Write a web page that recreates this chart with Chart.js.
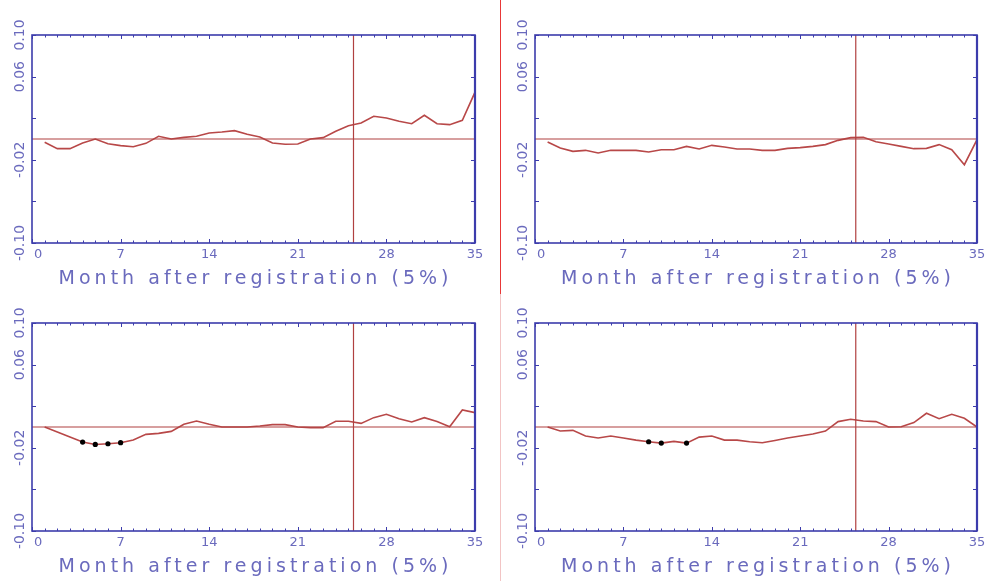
<!DOCTYPE html>
<html>
<head>
<meta charset="utf-8">
<script src="https://cdn.jsdelivr.net/npm/chart.js@4.4.1/dist/chart.umd.min.js"></script>
<style>
    body { margin: 0; background: #fff; width: 998px; height: 581px; position: relative; overflow: hidden; }
    .panel { position: absolute; }
    #sep_top { position: absolute; left: 500px; top: 0; width: 1px; height: 294px; background: #e83838; }
    #sep_bottom { position: absolute; left: 500px; top: 294px; width: 1px; height: 287px; background: #f2c4c4; }
</style>
</head>
<body>
<div class="panel" style="left:0;top:0"><canvas id="chart_tl" width="499" height="290"></canvas></div>
<div class="panel" style="left:500px;top:0"><canvas id="chart_tr" width="498" height="290"></canvas></div>
<div class="panel" style="left:0;top:290px"><canvas id="chart_bl" width="499" height="291"></canvas></div>
<div class="panel" style="left:500px;top:290px"><canvas id="chart_br" width="498" height="291"></canvas></div>
<div id="sep_top"></div>
<div id="sep_bottom"></div>
<script>
// months after registration
const months = [1, 2, 3, 4, 5, 6, 7, 8, 9, 10, 11, 12, 13, 14, 15, 16, 17, 18,
    19, 20, 21, 22, 23, 24, 25, 26, 27, 28, 29, 30, 31, 32, 33, 34, 35];

// values (top-left, top-right, bottom-left, bottom-right)
const tl_values = [-0.0032, -0.0093, -0.0093, -0.0038, 0.0, -0.0045, -0.0064, -0.0074, -0.0042, 0.0026,
    0.0, 0.0016, 0.0026, 0.0058, 0.0067, 0.0080, 0.0045, 0.0019, -0.0038, -0.0051,
    -0.0048, 0.0, 0.0013, 0.0074, 0.0128, 0.0154, 0.0218, 0.0202, 0.0170, 0.0147,
    0.0228, 0.0147, 0.0138, 0.0180, 0.0450];
const tr_values = [-0.0029, -0.0087, -0.0119, -0.0109, -0.0135, -0.0109, -0.0109, -0.0109, -0.0125, -0.0103,
    -0.0103, -0.0071, -0.0096, -0.0061, -0.0077, -0.0096, -0.0096, -0.0109, -0.0109, -0.0090,
    -0.0083, -0.0071, -0.0054, -0.0013, 0.0013, 0.0016, -0.0026, -0.0048, -0.0071, -0.0093,
    -0.0090, -0.0054, -0.0103, -0.0247, -0.0006];
const bl_values = [0.0, -0.0048, -0.0097, -0.0145, -0.0168, -0.0161, -0.0151, -0.0126, -0.0071, -0.0061,
    -0.0042, 0.0026, 0.0058, 0.0026, 0.0, 0.0, 0.0, 0.0010, 0.0023, 0.0023,
    0.0, -0.0006, -0.0006, 0.0055, 0.0055, 0.0035, 0.0090, 0.0122, 0.0080, 0.0048,
    0.0090, 0.0052, 0.0003, 0.0164, 0.0138];
const br_values = [0.0, -0.0039, -0.0032, -0.0087, -0.0106, -0.0087, -0.0106, -0.0126, -0.0142, -0.0155,
    -0.0138, -0.0155, -0.0097, -0.0087, -0.0126, -0.0126, -0.0142, -0.0151, -0.0129, -0.0106,
    -0.0087, -0.0068, -0.0039, 0.0052, 0.0074, 0.0058, 0.0052, 0.0, 0.0003, 0.0042,
    0.0132, 0.0080, 0.0122, 0.0084, 0.0];

// months marked with a black dot
const bl_marked = [4, 5, 6, 7];
const br_marked = [9, 10, 12];

// reference lines
const cutoff_month = 25.4;
const zero_level = 0;

// axes
const x_tick_labels = [0, 7, 14, 21, 28, 35];
const y_tick_values = [-0.10, -0.06, -0.02, 0.02, 0.06, 0.10];
const y_tick_labels = ["0.10", "0.06", "-0.02", "-0.10"];
const axis_title = "Month after registration (5%)";

const AXIS_COLOR = '#3c3cac';
const TEXT_COLOR = '#6a6abd';
const LINE_COLOR = '#b84848';
const REF_COLOR = '#b04040';

// inward ticks, frame, labels and title drawn on the library's scales
const frame_plugin = {
    id: 'frame',
    afterDatasetsDraw(chart) {
        const ctx = chart.ctx;
        const a = chart.chartArea;
        const x = chart.scales.x, y = chart.scales.y;
        ctx.save();
        ctx.strokeStyle = AXIS_COLOR;
        ctx.lineWidth = 1;
        ctx.beginPath();
        for (let m = 0; m <= 35; m++) {
            const px = Math.round(x.getPixelForValue(m)) + 0.5;
            const len = m % 7 === 0 ? 4 : 2.5;
            ctx.moveTo(px, a.bottom); ctx.lineTo(px, a.bottom - len);
            ctx.moveTo(px, a.top); ctx.lineTo(px, a.top + len);
        }
        y_tick_values.forEach(v => {
            const py = Math.round(y.getPixelForValue(v)) + 0.5;
            ctx.moveTo(a.left, py); ctx.lineTo(a.left + 4, py);
            ctx.moveTo(a.right, py); ctx.lineTo(a.right - 4, py);
        });
        ctx.stroke();

        ctx.lineWidth = 1.6;
        ctx.strokeRect(a.left, a.top, a.right - a.left, a.bottom - a.top);
        ctx.lineWidth = 2.2;
        ctx.beginPath();
        ctx.moveTo(a.right, a.top); ctx.lineTo(a.right, a.bottom);
        ctx.stroke();

        ctx.fillStyle = TEXT_COLOR;
        ctx.font = '13px "DejaVu Sans"';
        ctx.textBaseline = 'middle';
        x_tick_labels.forEach((v, i) => {
            ctx.textAlign = i === 0 ? 'left' : 'center';
            const px = x.getPixelForValue(v) + (i === 0 ? 2 : 0);
            ctx.fillText(String(v), px, a.bottom + 12);
        });
        ctx.textAlign = 'center';
        ctx.font = '14px "DejaVu Sans"';
        y_tick_labels.forEach(lbl => {
            ctx.save();
            ctx.translate(a.left - 12, y.getPixelForValue(parseFloat(lbl)));
            ctx.rotate(-Math.PI / 2);
            ctx.fillText(lbl, 0, 0);
            ctx.restore();
        });

        ctx.font = '19px "DejaVu Sans"';
        ctx.letterSpacing = '0px';
        const w = ctx.measureText(axis_title).width;
        const spacing = Math.max(0, (390 - w) / (axis_title.length - 1));
        ctx.letterSpacing = spacing.toFixed(2) + 'px';
        ctx.fillText(axis_title, (a.left + a.right) / 2 + spacing / 2, a.bottom + 36);
        ctx.restore();
    }
};

function make_panel(canvas_id, values, marked, pad) {
    const series = months.map((m, i) => ({ x: m, y: values[i] }));
    const config = {
        type: 'line',
        data: {
            datasets: [
                {
                    data: [{ x: 0, y: zero_level }, { x: 35, y: zero_level }],
                    borderColor: REF_COLOR, borderWidth: 1.2, pointRadius: 0
                },
                {
                    data: [{ x: cutoff_month, y: -0.1 }, { x: cutoff_month, y: 0.1 }],
                    borderColor: REF_COLOR, borderWidth: 1.2, pointRadius: 0
                },
                {
                    data: series,
                    borderColor: LINE_COLOR,
                    borderWidth: 1.6,
                    tension: 0,
                    pointRadius: ctx => marked.includes(ctx.raw.x) ? 2.6 : 0,
                    pointBackgroundColor: '#000',
                    pointBorderColor: '#000',
                    pointBorderWidth: 0
                }
            ]
        },
        options: {
            responsive: false,
            animation: false,
            events: [],
            layout: { padding: pad },
            plugins: { legend: { display: false }, tooltip: { enabled: false } },
            scales: {
                x: { type: 'linear', min: 0, max: 35, display: false },
                y: { type: 'linear', min: -0.1, max: 0.1, display: false }
            }
        },
        plugins: [frame_plugin]
    };
    return new Chart(document.getElementById(canvas_id).getContext('2d'), config);
}

make_panel('chart_tl', tl_values, [], { left: 32, right: 24, top: 35, bottom: 47 });
make_panel('chart_tr', tr_values, [], { left: 35, right: 21, top: 35, bottom: 47 });
make_panel('chart_bl', bl_values, bl_marked, { left: 32, right: 24, top: 33, bottom: 50 });
make_panel('chart_br', br_values, br_marked, { left: 35, right: 21, top: 33, bottom: 50 });
</script>
</body>
</html>
